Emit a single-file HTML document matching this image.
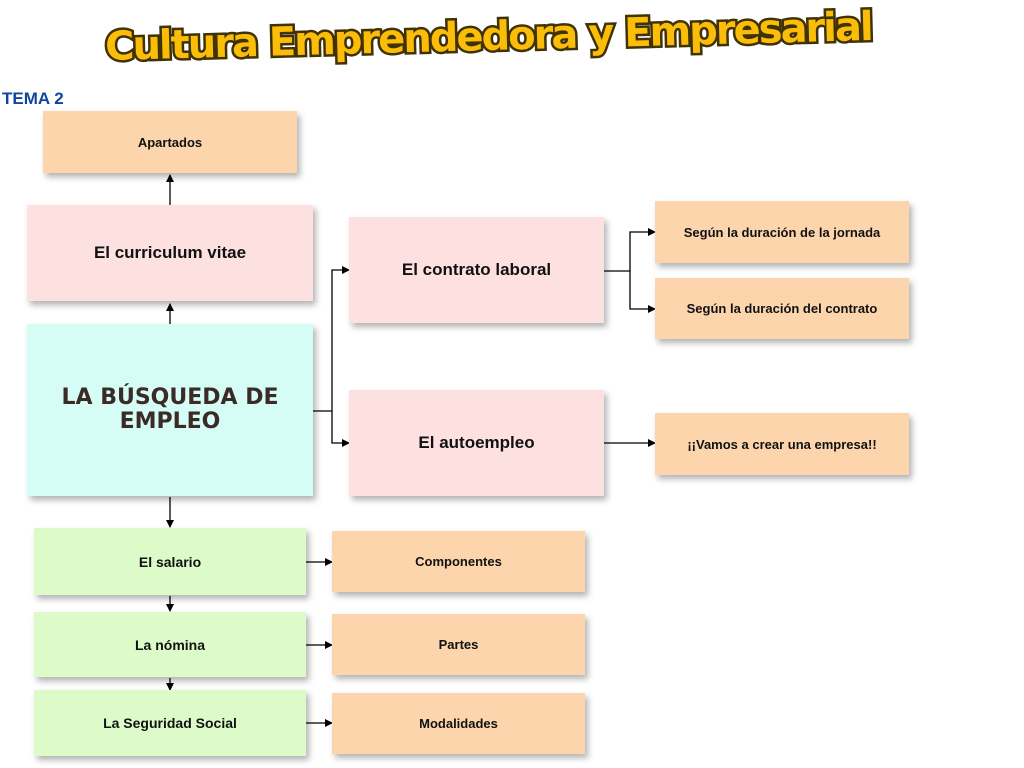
<!DOCTYPE html>
<html><head><meta charset="utf-8"><style>
body{margin:0;width:1024px;height:768px;background:#fff;position:relative;overflow:hidden;font-family:"Liberation Sans",sans-serif}
.b{position:absolute;display:flex;align-items:center;justify-content:center;text-align:center;font-weight:bold;color:#111;box-shadow:3px 4px 6px rgba(0,0,0,0.3)}
.o{background:#fdd5ad;font-size:13px}
.p{background:#fde1e1;font-size:17px}
.g{background:#dcfbc8;font-size:14px}
svg{position:absolute;left:0;top:0}
.t{position:absolute;left:105px;top:14px;font-family:"DejaVu Sans",sans-serif;font-weight:900;font-size:40px;color:#fbbd08;-webkit-text-stroke:5px #3f3206;paint-order:stroke fill;letter-spacing:-2px;transform:rotate(-1.5deg);white-space:nowrap}
</style></head><body>
<div class="t">Cultura Emprendedora y Empresarial</div>
<div style="position:absolute;left:2px;top:89px;color:#0d47a1;font-weight:bold;font-size:17px">TEMA 2</div>
<svg width="1024" height="768">
<defs><marker id="a" markerWidth="8" markerHeight="8" refX="7" refY="4" orient="auto" markerUnits="userSpaceOnUse"><path d="M0,0L8,4L0,8z" fill="#000"/></marker></defs>
<g stroke="#000" stroke-width="1.3" fill="none">
<path d="M170 205V175" marker-end="url(#a)"/>
<path d="M170 324V304" marker-end="url(#a)"/>
<path d="M170 497V527" marker-end="url(#a)"/>
<path d="M313 411H332V270H349" marker-end="url(#a)"/>
<path d="M332 411V443H349" marker-end="url(#a)"/>
<path d="M604 271H630V232H655" marker-end="url(#a)"/>
<path d="M630 271V309H655" marker-end="url(#a)"/>
<path d="M604 443H655" marker-end="url(#a)"/>
<path d="M306 562H332" marker-end="url(#a)"/>
<path d="M306 645H332" marker-end="url(#a)"/>
<path d="M306 723H332" marker-end="url(#a)"/>
<path d="M170 596V611" marker-end="url(#a)"/>
<path d="M170 678V690" marker-end="url(#a)"/>
</g></svg>
<div class="b o" style="left:43px;top:111px;width:254px;height:62px">Apartados</div>
<div class="b p" style="left:27px;top:205px;width:286px;height:96px">El curriculum vitae</div>
<div class="b" style="left:27px;top:324px;width:286px;height:172px;background:#d5fdf6;color:#3b2a26;font-family:'DejaVu Sans',sans-serif;font-size:22px;line-height:24px;padding:0 20px;box-sizing:border-box">LA BÚSQUEDA DE EMPLEO</div>
<div class="b p" style="left:349px;top:217px;width:255px;height:106px">El contrato laboral</div>
<div class="b p" style="left:349px;top:390px;width:255px;height:106px">El autoempleo</div>
<div class="b o" style="left:655px;top:201px;width:254px;height:62px">Según la duración de la jornada</div>
<div class="b o" style="left:655px;top:278px;width:254px;height:61px">Según la duración del contrato</div>
<div class="b o" style="left:655px;top:413px;width:254px;height:62px">¡¡Vamos a crear una empresa!!</div>
<div class="b g" style="left:34px;top:528px;width:272px;height:67px">El salario</div>
<div class="b g" style="left:34px;top:612px;width:272px;height:65px">La nómina</div>
<div class="b g" style="left:34px;top:690px;width:272px;height:66px">La Seguridad Social</div>
<div class="b o" style="left:332px;top:531px;width:253px;height:61px">Componentes</div>
<div class="b o" style="left:332px;top:614px;width:253px;height:61px">Partes</div>
<div class="b o" style="left:332px;top:693px;width:253px;height:61px">Modalidades</div>
</body></html>
